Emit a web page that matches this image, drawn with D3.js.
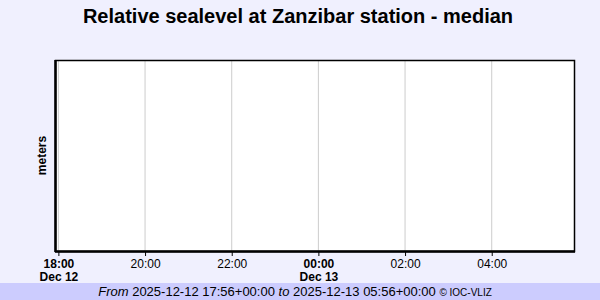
<!DOCTYPE html>
<html>
<head>
<meta charset="utf-8">
<script src="https://cdn.jsdelivr.net/npm/d3@7"></script>
<style>
  body { margin: 0; background: #f0f0fe; }
  svg { display: block; font-family: 'Liberation Sans', Arial, sans-serif; }
</style>
</head>
<body>
<div id="chart"></div>
<script>
// the data: station has no readings in this window, so series is empty
const title = 'Relative sealevel at Zanzibar station - median'
const yLabel = 'meters'
const startTime = '2025-12-12T17:56:00Z'
const endTime = '2025-12-13T05:56:00Z'
const seriesTimes = []
const seriesValues = []
const footerFrom = '2025-12-12 17:56+00:00'
const footerTo = '2025-12-13 05:56+00:00'

const draw = () => {
  const dimensions = {
    width: 600,
    height: 300,
    margin: { top: 60, right: 25, bottom: 49, left: 55 },
  }
  dimensions.ctrWidth = dimensions.width - dimensions.margin.left - dimensions.margin.right
  dimensions.ctrHeight = dimensions.height - dimensions.margin.top - dimensions.margin.bottom

  const svg = d3
    .select('#chart')
    .append('svg')
    .attr('width', dimensions.width)
    .attr('height', dimensions.height)

  svg.append('rect')
    .attr('width', dimensions.width)
    .attr('height', dimensions.height)
    .attr('fill', '#f0f0fe')

  // footer band
  svg.append('rect')
    .attr('y', 283)
    .attr('width', dimensions.width)
    .attr('height', 17)
    .attr('fill', '#ccccfe')

  svg.append('text')
    .attr('x', 298)
    .attr('y', 23)
    .attr('text-anchor', 'middle')
    .style('font-size', '20px')
    .style('font-weight', 'bold')
    .text(title)

  const ctr = svg
    .append('g')
    .attr('transform', `translate(${dimensions.margin.left}, ${dimensions.margin.top})`)

  ctr.append('rect')
    .attr('width', dimensions.ctrWidth)
    .attr('height', dimensions.ctrHeight)
    .attr('fill', 'white')

  const xScale = d3
    .scaleUtc()
    .domain([new Date(startTime), new Date(endTime)])
    .range([0, dimensions.ctrWidth])

  const yScale = d3
    .scaleLinear()
    .domain([0, 1])
    .range([dimensions.ctrHeight, 0])

  const ticks = xScale.ticks(d3.utcHour.every(2))

  // vertical grid lines
  ctr.append('g')
    .selectAll('line')
    .data(ticks)
    .join('line')
    .attr('x1', (d) => xScale(d) + 0.5)
    .attr('x2', (d) => xScale(d) + 0.5)
    .attr('y1', 0)
    .attr('y2', dimensions.ctrHeight)
    .attr('stroke', '#cccccc')
    .attr('stroke-width', 1)

  // series line (empty)
  const lineGenerator = d3
    .line()
    .x((d, i) => xScale(new Date(seriesTimes[i])))
    .y((d) => yScale(d))

  ctr.append('path')
    .datum(seriesValues)
    .attr('d', lineGenerator)
    .attr('fill', 'none')
    .attr('stroke', 'blue')

  // frame
  ctr.append('rect')
    .attr('x', 0.5)
    .attr('y', 0.5)
    .attr('width', dimensions.ctrWidth - 1)
    .attr('height', dimensions.ctrHeight)
    .attr('fill', 'none')
    .attr('stroke', 'black')
    .attr('stroke-width', 1.5)

  ctr.append('line')
    .attr('x1', 0.5).attr('x2', 0.5)
    .attr('y1', 0).attr('y2', dimensions.ctrHeight + 1)
    .attr('stroke', 'black').attr('stroke-width', 2.5)
  ctr.append('line')
    .attr('x1', 0).attr('x2', dimensions.ctrWidth)
    .attr('y1', dimensions.ctrHeight + 0.5).attr('y2', dimensions.ctrHeight + 0.5)
    .attr('stroke', 'black').attr('stroke-width', 2.5)

  // x axis
  const isMidnight = (d) => d.getUTCHours() === 0
  const xAxis = d3.axisBottom(xScale)
    .tickValues(ticks)
    .tickSize(4)
    .tickPadding(3)
    .tickFormat(d3.utcFormat('%H:%M'))

  const xAxisGroup = ctr.append('g')
    .attr('transform', `translate(0.5, ${dimensions.ctrHeight + 1})`)
    .call(xAxis)
  xAxisGroup.select('.domain').remove()
  xAxisGroup.selectAll('.tick line').attr('stroke', 'black')
  xAxisGroup.selectAll('.tick text')
    .style('font-family', "'Liberation Sans', Arial, sans-serif")
    .style('font-size', '12px')
    .style('font-weight', (d, i) => (i === 0 || isMidnight(d) ? 'bold' : 'normal'))
    .attr('fill', 'black')

  xAxisGroup.selectAll('.tick')
    .filter((d, i) => i === 0 || isMidnight(d))
    .append('text')
    .attr('y', 20)
    .attr('dy', '0.71em')
    .attr('fill', 'black')
    .style('font-size', '12px')
    .style('font-weight', 'bold')
    .text(d3.utcFormat('%b %-d'))

  // y label
  svg.append('text')
    .attr('transform', `translate(46, ${dimensions.margin.top + dimensions.ctrHeight / 2}) rotate(-90)`)
    .attr('text-anchor', 'middle')
    .style('font-size', '12px')
    .style('font-weight', 'bold')
    .text(yLabel)

  // footer
  const footer = svg.append('text')
    .attr('x', 295)
    .attr('y', 296)
    .attr('text-anchor', 'middle')
    .style('font-size', '13px')
  footer.append('tspan').style('font-style', 'italic').text('From ')
  footer.append('tspan').text(footerFrom + ' ')
  footer.append('tspan').style('font-style', 'italic').text('to ')
  footer.append('tspan').text(footerTo + ' ')
  footer.append('tspan').style('font-size', '10px').text('© IOC-VLIZ')
}

draw()
</script>
</body>
</html>
